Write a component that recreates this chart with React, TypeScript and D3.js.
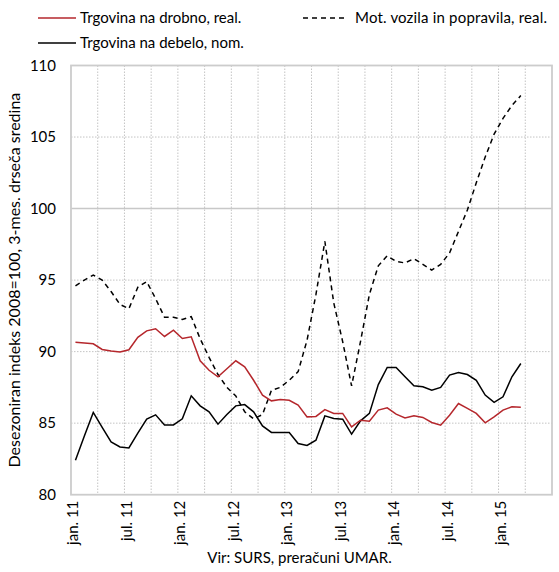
import React from "react";
import * as d3 from "d3";

const retailReal = [90.65, 90.6, 90.55, 90.15, 90.05, 89.97, 90.13, 91.0, 91.45, 91.6, 91.06, 91.5, 90.92, 91.04, 89.36, 88.7, 88.24, 88.8, 89.36, 88.94, 88.0, 86.96, 86.56, 86.66, 86.6, 86.26, 85.44, 85.47, 85.95, 85.68, 85.68, 84.74, 85.21, 85.14, 85.91, 86.07, 85.63, 85.37, 85.51, 85.4, 85.05, 84.86, 85.56, 86.37, 86.03, 85.68, 85.02, 85.44, 85.91, 86.14, 86.12];
const wholesaleNom = [82.41, 84.1, 85.75, 84.7, 83.69, 83.34, 83.27, 84.3, 85.28, 85.58, 84.88, 84.88, 85.3, 86.91, 86.21, 85.79, 84.93, 85.6, 86.21, 86.3, 85.79, 84.81, 84.35, 84.35, 84.35, 83.58, 83.44, 83.81, 85.51, 85.33, 85.28, 84.23, 85.16, 85.68, 87.7, 88.89, 88.89, 88.24, 87.61, 87.54, 87.31, 87.5, 88.36, 88.54, 88.4, 88.0, 86.96, 86.45, 86.84, 88.24, 89.17];
const motorVehicles = [94.6, 95.0, 95.35, 95.0, 94.2, 93.3, 93.0, 94.5, 94.9, 93.7, 92.4, 92.4, 92.25, 92.45, 90.9, 89.6, 88.4, 87.5, 86.9, 85.8, 85.3, 85.6, 87.3, 87.5, 88.0, 88.6, 90.8, 94.0, 97.7, 93.4, 90.7, 87.6, 90.7, 94.0, 96.0, 96.7, 96.3, 96.2, 96.5, 96.1, 95.7, 96.1, 96.9, 98.4, 99.9, 101.8, 103.6, 105.2, 106.3, 107.2, 107.9];

const xTickLabels = ["jan. 11", "jul. 11", "jan. 12", "jul. 12", "jan. 13", "jul. 13", "jan. 14", "jul. 14", "jan. 15"];
const yTicks = [80, 85, 90, 95, 100, 105, 110];
const nCategories = 54;
const labelStep = 6;
const gridStep = 3;

const W = 559, H = 572;
const left = 71, right = 552, top = 65.5, bottom = 494.7;
const FONT = "Lato, 'Open Sans', sans-serif";

export default function App() {
  const x = d3.scaleLinear().domain([-0.5, nCategories - 0.5]).range([left, right]);
  const y = d3.scaleLinear().domain([80, 110]).range([bottom, top]);
  const line = d3.line<number>().x((_, i) => x(i)).y((d) => y(d));

  const vGrid: number[] = [];
  for (let k = 1; k * gridStep < nCategories; k++) vGrid.push(k * gridStep - 0.5);

  return (
    <svg width={W} height={H} style={{ position: "absolute", left: 0, top: 0, background: "#fff" }} fontFamily={FONT}>
      {/* gridlines */}
      {vGrid.map((g) => (
        <line key={"v" + g} x1={x(g)} x2={x(g)} y1={top} y2={bottom} stroke="#c4c4c4" strokeWidth={1} strokeDasharray="1.5,1.5" />
      ))}
      {yTicks.filter((t) => t !== 80 && t !== 110).map((t) => (
        <line key={"h" + t} x1={left} x2={right} y1={y(t)} y2={y(t)} stroke={t === 100 ? "#c8c8c8" : "#c4c4c4"} strokeWidth={t === 100 ? 1.5 : 1} strokeDasharray={t === 100 ? undefined : "1.5,1.5"} />
      ))}
      <rect x={left} y={top} width={right - left} height={bottom - top} fill="none" stroke="#cccccc" strokeWidth={1.8} />

      {/* y tick labels */}
      {yTicks.map((t) => (
        <text key={"yl" + t} x={56} y={y(t)} dy="0.35em" textAnchor="end" fontSize={15} fill="#000">{t}</text>
      ))}
      {/* y title */}
      <text transform={`translate(20,${(top + bottom) / 2}) rotate(-90)`} textAnchor="middle" fontSize={16} fill="#000">
        Desezoniran indeks 2008=100, 3-mes. drseča sredina
      </text>

      {/* x tick labels */}
      {xTickLabels.map((lab, i) => (
        <text key={lab} transform={`translate(${x(i * labelStep) + 3},${bottom + 6}) rotate(-90)`} textAnchor="end" fontSize={15} fill="#000">{lab}</text>
      ))}

      {/* series */}
      <path d={line(motorVehicles) || ""} fill="none" stroke="#000" strokeWidth={1.5} strokeDasharray="5,4" />
      <path d={line(wholesaleNom) || ""} fill="none" stroke="#000" strokeWidth={1.5} />
      <path d={line(retailReal) || ""} fill="none" stroke="#b5272c" strokeWidth={1.5} />

      {/* legend */}
      <line x1={38} x2={76} y1={18} y2={18} stroke="#b5272c" strokeWidth={1.5} />
      <text x={80} y={18} dy="0.35em" fontSize={15} fill="#000">Trgovina na drobno, real.</text>
      <line x1={38} x2={76} y1={43} y2={43} stroke="#000" strokeWidth={1.5} />
      <text x={80} y={43} dy="0.35em" fontSize={15} fill="#000">Trgovina na debelo, nom.</text>
      <line x1={303} x2={346} y1={18} y2={18} stroke="#000" strokeWidth={1.5} strokeDasharray="5,4" />
      <text x={355} y={18} dy="0.35em" fontSize={15} fill="#000" textLength={192}>Mot. vozila in popravila, real.</text>

      {/* source */}
      <text x={W / 2 + 20} y={563} textAnchor="middle" fontSize={15} fill="#000">Vir: SURS, preračuni UMAR.</text>
    </svg>
  );
}
